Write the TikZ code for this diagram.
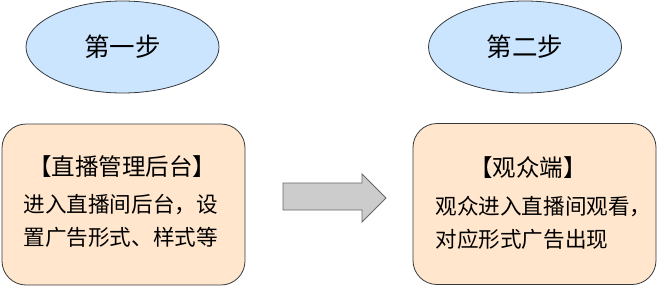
\documentclass[tikz,border=0pt]{standalone}
\usepackage{fontspec}
\setmainfont{Noto Sans CJK SC}
\usetikzlibrary{shapes.geometric,shapes.arrows}
\definecolor{ellfill}{HTML}{CCE5FF}
\definecolor{boxfill}{HTML}{FFE6CC}
\definecolor{edgegray}{HTML}{36393D}
\definecolor{arrfill}{HTML}{CCCCCC}
\definecolor{arrline}{HTML}{666666}
\tikzset{
  stepell/.style={ellipse, draw=edgegray, fill=ellfill, line width=0.8pt, minimum width=193pt, minimum height=92pt, inner sep=0pt, font=\fontsize{25.5}{30}\selectfont},
  stagebox/.style={draw=edgegray, fill=boxfill, line width=0.8pt, rounded corners=24pt, minimum width=243pt, minimum height=161pt, inner sep=0pt},
  titletext/.style={font=\fontsize{23.5}{28}\selectfont},
  bodytext/.style={font=\fontsize{21.6}{33}\selectfont, align=left},
}
\begin{document}
\begin{tikzpicture}[x=1pt,y=-1pt]
\useasboundingbox (0,0) rectangle (668,287);
\node[stepell] (e1) at (122.5,47) {第一步};
\node[stepell] (e2) at (525,47) {第二步};
\node[stagebox] (b1) at (123.5,204.5) {};
\node[stagebox] (b2) at (534.5,204) {};
\node[titletext] (t1) at (122,167) {【直播管理后台】};
\node[bodytext, anchor=west] (d1) at (20,221) {进入直播间后台，设\\置广告形式、样式等};
\node[titletext] (t2) at (528,168) {【观众端】};
\node[bodytext, anchor=west] (d2) at (432,222.5) {观众进入直播间观看，\\对应形式广告出现};
\draw[draw=arrline, fill=arrfill, line width=0.8pt]
  (283,183) -- (362,183) -- (362,174) -- (386,198) -- (362,222) -- (362,210) -- (283,210) -- cycle;
\end{tikzpicture}
\end{document}
